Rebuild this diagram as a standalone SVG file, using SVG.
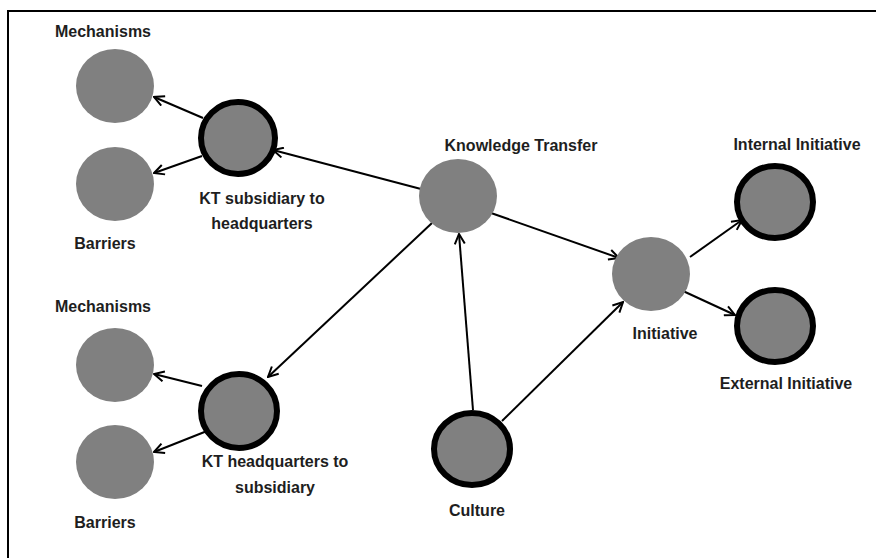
<svg xmlns="http://www.w3.org/2000/svg" width="876" height="558" viewBox="0 0 876 558">
<style>
.n{fill:#808080}
.b{fill:#808080;stroke:#000;stroke-width:6}
.t{font-family:"Liberation Sans",Arial,sans-serif;font-weight:bold;font-size:16px;fill:#1e1e1e;text-anchor:middle}
.c{stroke:#000;stroke-width:2;fill:none;marker-end:url(#ah)}
</style>
<defs>
<marker id="ah" viewBox="0 0 12 12" refX="11" refY="6" markerWidth="12" markerHeight="12" markerUnits="userSpaceOnUse" orient="auto">
<polyline points="1,1 11,6 1,11" fill="none" stroke="#000" stroke-width="2"/>
</marker>
</defs>
<rect width="876" height="558" fill="#fff"/>
<path d="M8,558 V11 H876" fill="none" stroke="#000" stroke-width="2"/>
<g id="connectors">
<line class="c" x1="203" y1="118" x2="154" y2="97"/>
<line class="c" x1="202" y1="156" x2="154" y2="173"/>
<line class="c" x1="421" y1="189" x2="273" y2="150"/>
<line class="c" x1="432" y1="223" x2="268" y2="377"/>
<line class="c" x1="491" y1="213" x2="619" y2="258"/>
<line class="c" x1="473" y1="410" x2="459" y2="234"/>
<line class="c" x1="502" y1="421" x2="623" y2="302"/>
<line class="c" x1="690" y1="257" x2="742" y2="220"/>
<line class="c" x1="683" y1="291" x2="735" y2="315"/>
<line class="c" x1="202" y1="386" x2="154" y2="374"/>
<line class="c" x1="207" y1="431" x2="154" y2="452"/>
</g>
<g id="mech1"><ellipse class="n" cx="115" cy="86" rx="39" ry="37"/><text class="t" x="103" y="37">Mechanisms</text></g>
<g id="barr1"><ellipse class="n" cx="115" cy="184" rx="39" ry="37"/><text class="t" x="105" y="249">Barriers</text></g>
<g id="ktsub"><ellipse class="b" cx="238" cy="138" rx="37" ry="36"/><text class="t" x="262" y="204">KT subsidiary to</text><text class="t" x="262" y="229">headquarters</text></g>
<g id="mech2"><ellipse class="n" cx="115" cy="365" rx="39" ry="37"/><text class="t" x="103" y="312">Mechanisms</text></g>
<g id="barr2"><ellipse class="n" cx="115" cy="462" rx="39" ry="37"/><text class="t" x="105" y="528">Barriers</text></g>
<g id="kthq"><ellipse class="b" cx="239" cy="411" rx="38" ry="37"/><text class="t" x="275" y="467">KT headquarters to</text><text class="t" x="275" y="493">subsidiary</text></g>
<g id="kt"><ellipse class="n" cx="458" cy="196" rx="39" ry="37"/><text class="t" x="521" y="151">Knowledge Transfer</text></g>
<g id="init"><ellipse class="n" cx="651" cy="274" rx="39" ry="37"/><text class="t" x="665" y="339">Initiative</text></g>
<g id="intinit"><ellipse class="b" cx="775" cy="202" rx="38" ry="36"/><text class="t" x="797" y="150">Internal Initiative</text></g>
<g id="extinit"><ellipse class="b" cx="775" cy="326" rx="38" ry="36"/><text class="t" x="786" y="389">External Initiative</text></g>
<g id="culture"><ellipse class="b" cx="472" cy="449" rx="38" ry="36"/><text class="t" x="477" y="516">Culture</text></g>
</svg>
